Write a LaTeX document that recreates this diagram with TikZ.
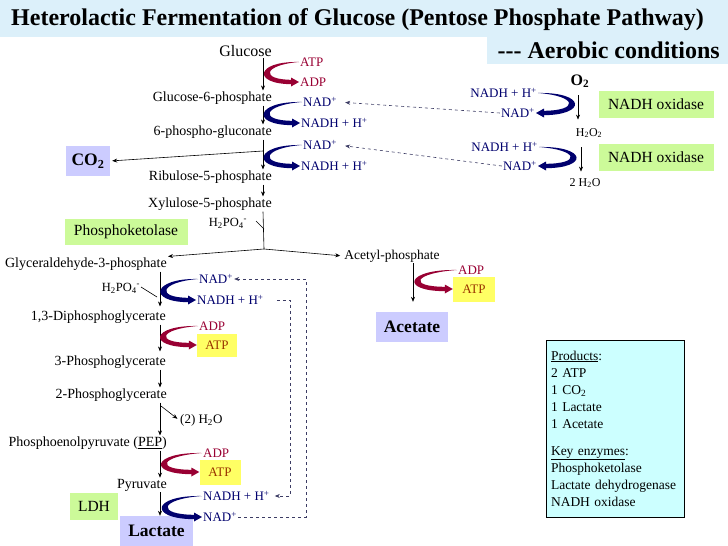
\documentclass[tikz,border=0pt]{standalone}
\usepackage{fontspec}
\setmainfont{Liberation Serif}
\usetikzlibrary{arrows.meta, positioning, calc}
\definecolor{titlebg}{RGB}{220,240,250}
\definecolor{redc}{RGB}{153,0,51}
\definecolor{navyc}{RGB}{0,0,110}
\definecolor{atptext}{RGB}{153,51,0}
\definecolor{yellowbg}{RGB}{255,255,100}
\definecolor{greenbg}{RGB}{204,250,153}
\definecolor{lavbg}{RGB}{204,204,255}
\definecolor{prodbg}{RGB}{204,255,255}
\definecolor{dashc}{RGB}{60,60,100}
\newcommand{\subs}[1]{\textsubscript{#1}}
\newcommand{\sups}[1]{\textsuperscript{#1}}
\newcommand{\fs}[1]{\fontsize{#1}{#1}\selectfont}
% tapered cofactor arc: colour, start, end, depth, side (-1 left, 1 right)
\newcommand{\cofarc}[5]{%
  \fill[#1] (#2) .. controls +({#5*#4},-1) and +({#5*(#4-4)},0) .. ([shift={({#5*7},2.2)}]#3)
    -- ([shift={({#5*7},-2.2)}]#3) .. controls +({#5*(#4-12)},0) and +({#5*(#4-8)},3) .. (#2) -- cycle;
  \fill[#1] (#3) -- ([shift={({#5*8},4.5)}]#3) -- ([shift={({#5*8},-4.5)}]#3) -- cycle;}

\tikzset{
  met/.style={font=\fs{14}, inner sep=1pt, anchor=east},
  cof/.style={font=\fs{13}, inner sep=1pt, anchor=west},
  nadlab/.style={cof, text=navyc},
  atplab/.style={cof, text=redc},
  flow/.style={line width=0.6pt, -{Stealth[length=5pt,width=4pt]}},
  dashcon/.style={draw=dashc, dashed, line width=0.6pt, -{Stealth[length=5pt,width=4pt]}},
  atpbox/.style={fill=yellowbg, text=atptext, font=\fs{13}, minimum width=40pt, minimum height=23pt, inner sep=1pt},
  enzbox/.style={fill=greenbg, font=\fs{15.5}, minimum width=115pt, minimum height=27pt, inner sep=2pt},
  prodnode/.style={fill=lavbg, font=\bfseries\fs{17.5}, minimum width=72pt, minimum height=30pt, inner sep=1pt}
}

\begin{document}
\begin{tikzpicture}[x=1pt, y=-1pt]
  \fill[white] (0,0) rectangle (728,546);
  \useasboundingbox (0,0) rectangle (728,546);

  % title bands
  \fill[titlebg] (0,0) rectangle (728,37);
  \fill[titlebg] (487,37) rectangle (728,64);
  \node[font=\bfseries\fs{24}, anchor=west, inner sep=0pt] (title) at (11,20)
    {Heterolactic Fermentation of Glucose (Pentose Phosphate Pathway)};
  \node[font=\bfseries\fs{24}, anchor=east, inner sep=0pt] (aero) at (720,50)
    {{-}{-}{-} Aerobic conditions};

  % columns
  \coordinate (colA) at (263,0);
  \coordinate (colB) at (160,0);
  \coordinate (colC) at (413,0);
  \coordinate (colD) at (578,0);
  \coordinate (colE) at (581,0);

  % pentose phosphate part
  \node[met, font=\fs{16}] (glc) at (273,51) {Glucose};
  \node[met] (g6p) at (273,98) {Glucose-6-phosphate};
  \node[met] (pgl) at (273,132) {6-phospho-gluconate};
  \node[met] (ru5p) at (273,177) {Ribulose-5-phosphate};
  \node[met] (xu5p) at (273,204) {Xylulose-5-phosphate};

  \node[atplab] (atp0) at (299,62) {ATP};
  \node[atplab] (adp0) at (299,82) {ADP};
  \node[nadlab] (nad1) at (302,102) {NAD\sups{+}};
  \node[nadlab] (nadh1) at (300,123) {NADH + H\sups{+}};
  \node[nadlab] (nad2) at (302,145) {NAD\sups{+}};
  \node[nadlab] (nadh2) at (300,166) {NADH + H\sups{+}};

  \node[prodnode, minimum width=44pt] (co2) at (88,161) {CO\subs{2}};
  \node[enzbox, minimum width=123pt, minimum height=26pt] (pket) at (126,232) {Phosphoketolase};
  \node[font=\fs{12.5}, inner sep=1pt] (hpoA) at (228,223) {H\subs{2}PO\subs{4}\sups{-}};

  \draw[flow] (glc.south -| colA) -- (g6p.north -| colA);
  \draw[flow] (g6p.south -| colA) -- (pgl.north -| colA);
  \draw[flow] (pgl.south -| colA) -- (ru5p.north -| colA);
  \draw[flow] (ru5p.south -| colA) -- (xu5p.north -| colA);

  \cofarc{redc}{atp0.west}{adp0.west}{44}{-1}
  \cofarc{navyc}{nad1.west}{nadh1.west}{47}{-1}
  \cofarc{navyc}{nad2.west}{nadh2.west}{47}{-1}

  \coordinate (co2A) at (263,151);
  \draw[flow, shorten >=2pt] (co2A) -- (co2.east);

  \coordinate (split) at (264,249);
  \coordinate (tickA1) at (256,221);
  \coordinate (tickA2) at (264,229);
  \draw[line width=0.6pt] (xu5p.south -| colA) -- (split);
  \draw[line width=0.6pt] (tickA1) -- (tickA2);

  % oxidase part
  \node[font=\bfseries\fs{16}] (o2) at (580,81) {O\subs{2}};
  \node[nadlab, anchor=east] (nadhR1) at (538,93) {NADH + H\sups{+}};
  \node[nadlab, anchor=east] (nadR1) at (536,113) {NAD\sups{+}};
  \node[font=\fs{12}] (h2o2) at (589,133) {H\subs{2}O\subs{2}};
  \node[nadlab, anchor=east] (nadhR2) at (539,147) {NADH + H\sups{+}};
  \node[nadlab, anchor=east] (nadR2) at (538,166) {NAD\sups{+}};
  \node[font=\fs{12}] (h2o) at (585,183) {2 H\subs{2}O};
  \node[enzbox] (nox1) at (656,104) {NADH oxidase};
  \node[enzbox] (nox2) at (656,157) {NADH oxidase};

  \draw[flow, shorten <=4pt, shorten >=5pt] (o2.south -| colD) -- (h2o2.north -| colD);
  \draw[flow, shorten <=6pt, shorten >=3pt] (h2o2.south -| colE) -- (h2o.north -| colE);
  \cofarc{navyc}{nadhR1.east}{nadR1.east}{48}{1}
  \cofarc{navyc}{nadhR2.east}{nadR2.east}{48}{1}
  \draw[dashcon, shorten >=7pt] (nadR1.west) -- (nad1.east);
  \draw[dashcon, shorten >=7pt] (nadR2.west) -- (nad2.east);

  % glycolytic part
  \node[met] (ga3p) at (168,264) {Glyceraldehyde-3-phosphate};
  \node[met] (bpg) at (167,317) {1,3-Diphosphoglycerate};
  \node[met] (pg3) at (167,362) {3-Phosphoglycerate};
  \node[met] (pg2) at (168,395) {2-Phosphoglycerate};
  \node[met] (pep) at (168,443) {Phosphoenolpyruvate (\underline{PEP})};
  \node[met] (pyr) at (168,485) {Pyruvate};
  \node[prodnode, minimum width=73pt] (lac) at (156.5,531) {Lactate};
  \node[enzbox, minimum width=48pt] (ldh) at (94,506.5) {LDH};

  \node[nadlab] (nad3) at (198,279) {NAD\sups{+}};
  \node[nadlab] (nadh3) at (196,300) {NADH + H\sups{+}};
  \node[atplab] (adp3) at (198,326) {ADP};
  \node[atpbox] (atp3) at (217,345) {ATP};
  \node[atplab] (adp4) at (202,453) {ADP};
  \node[atpbox, minimum width=41pt, minimum height=25pt] (atp4) at (220,472) {ATP};
  \node[nadlab] (nadh4) at (202,496) {NADH + H\sups{+}};
  \node[nadlab] (nad4) at (202,517) {NAD\sups{+}};
  \node[font=\fs{12.5}, inner sep=1pt] (hpoB) at (121,288) {H\subs{2}PO\subs{4}\sups{-}};
  \node[font=\fs{13}, inner sep=1pt, anchor=west] (w2o) at (179,420) {(2) H\subs{2}O};

  \draw[flow] (split) -- (ga3p.north east);
  \draw[flow, shorten >=3pt] (ga3p.south -| colB) -- (bpg.north -| colB);
  \draw[flow, shorten >=3pt] (bpg.south -| colB) -- (pg3.north -| colB);
  \draw[flow] (pg3.south -| colB) -- (pg2.north -| colB);
  \draw[flow] (pg2.south -| colB) -- (pep.north -| colB);
  \draw[flow] (pep.south -| colB) -- (pyr.north -| colB);
  \draw[flow] (pyr.south -| colB) -- (lac.north -| colB);

  \coordinate (tickB1) at (141,287);
  \coordinate (tickB2) at (157,297);
  \draw[line width=0.6pt] (tickB1) -- (tickB2);
  \coordinate (h2oA) at (161,406);
  \draw[flow, shorten >=2pt] (h2oA) -- (w2o.west);

  \cofarc{navyc}{nad3.west}{nadh3.west}{46}{-1}
  \cofarc{redc}{adp3.west}{atp3.west}{47}{-1}
  \cofarc{redc}{adp4.west}{atp4.west}{50}{-1}
  \cofarc{navyc}{nadh4.west}{nad4.west}{51}{-1}

  \coordinate (loopIn) at (290,400);
  \coordinate (loopOut) at (306,400);
  \draw[dashcon, shorten <=12pt, shorten >=4pt] (nadh3.east) -| (loopIn) |- (nadh4.east);
  \draw[dashcon] (nad4.east) -| (loopOut) |- (nad3.east);

  % acetate branch
  \node[font=\fs{13.5}, inner sep=1pt] (acp) at (392,256) {Acetyl-phosphate};
  \node[atplab] (adp5) at (457,270) {ADP};
  \node[atpbox, minimum width=42pt, minimum height=25pt] (atp5) at (474,289) {ATP};
  \node[prodnode] (ace) at (412,327) {Acetate};

  \draw[flow, shorten >=3pt] (split) -- (acp.west);
  \draw[flow, shorten >=10pt] (acp.south -| colC) -- (ace.north -| colC);
  \cofarc{redc}{adp5.west}{atp5.west}{51}{-1}

  % summary
  \node[draw, fill=prodbg, minimum width=138pt, minimum height=177pt, text width=128pt,
        inner xsep=5pt, inner ysep=0pt, align=left, font=\fontsize{13.5}{17}\selectfont] (prod) at (615,428.5)
    {\underline{Products}:\\ 2 ATP\\ 1 CO\subs{2}\\ 1 Lactate\\ 1 Acetate\\[10pt]
     \underline{Key enzymes}:\\ Phosphoketolase\\ Lactate dehydrogenase\\ NADH oxidase};
\end{tikzpicture}
\end{document}
